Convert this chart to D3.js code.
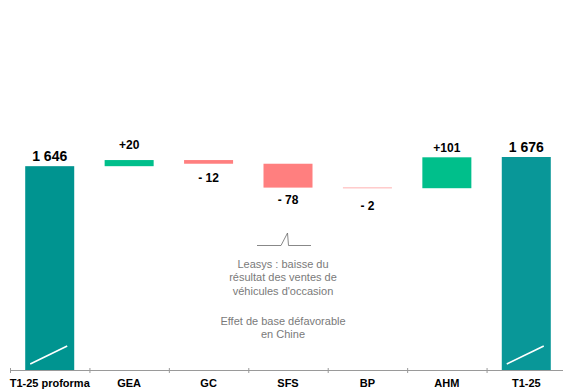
<!DOCTYPE html>
<html>
<head>
<meta charset="utf-8">
<script src="https://cdn.jsdelivr.net/npm/d3@7"></script>
<style>
  html, body { margin: 0; padding: 0; background: #fff; }
  svg { display: block; font-family: "Liberation Sans", Arial, sans-serif; }
</style>
</head>
<body>
<svg id="chart" width="563" height="392"></svg>
<script>
// ---- data ----
const categories = ["T1-25 proforma", "GEA", "GC", "SFS", "BP", "AHM", "T1-25"];
const values = [1646, 20, -12, -78, -2, 101, 1676];
const kinds = ["total", "delta", "delta", "delta", "delta", "delta", "total"];
const valueLabels = ["1 646", "+20", "- 12", "- 78", "- 2", "+101", "1 676"];
const axisBreakValue = 980;   // broken value axis starts here
const annotationBlocks = [["Leasys : baisse du", "résultat des ventes de", "véhicules d'occasion"], ["Effet de base défavorable", "en Chine"]];

// ---- layout ----
const W = 563, H = 392;
const baseY = 370, topY = 157;
const svg = d3.select("#chart");

const x = d3.scaleBand().domain(categories).range([10, 566]).paddingInner(0.383).paddingOuter(0.1915);
const y = d3.scaleLinear().domain([axisBreakValue, 1676]).range([baseY, topY]);

// waterfall computation
let running = 0;
const bars = categories.map((c, i) => {
  let y0, y1;
  if (kinds[i] === "total") { y0 = axisBreakValue; y1 = values[i]; running = values[i]; }
  else { y0 = running; y1 = running + values[i]; running = y1; }
  return { cat: c, v: values[i], kind: kinds[i], lo: Math.min(y0, y1), hi: Math.max(y0, y1), label: valueLabels[i], i };
});

const colors = { pos: "#00BF8B", neg: "#FF7F7F" };
const colorOf = d => d.kind === "total" ? (d.i === 0 ? "#009490" : "#099798") : (d.v >= 0 ? colors.pos : colors.neg);

svg.append("g").selectAll("rect").data(bars).join("rect")
  .attr("x", d => x(d.cat))
  .attr("width", x.bandwidth())
  .attr("y", d => y(d.hi))
  .attr("height", d => Math.max(0.6, y(d.lo) - y(d.hi)))
  .attr("fill", colorOf);

// axis-break marks on total bars
svg.append("g").selectAll("line").data(bars.filter(d => d.kind === "total")).join("line")
  .attr("x1", d => x(d.cat) + 5)
  .attr("x2", d => x(d.cat) + 42)
  .attr("y1", baseY - 6)
  .attr("y2", baseY - 24)
  .attr("stroke", "#fff")
  .attr("stroke-width", 1.6);

// value labels
svg.append("g").selectAll("text").data(bars).join("text")
  .attr("x", d => x(d.cat) + x.bandwidth() / 2)
  .attr("y", d => {
    const top = y(d.hi), bot = y(d.lo);
    if (d.kind === "total") return top - 5;
    if (d.v >= 0) return Math.min(top - 5, bot - 17);
    return Math.max(bot + 16.5, top + 22);
  })
  .attr("text-anchor", "middle")
  .attr("font-weight", "bold")
  .attr("font-size", d => d.kind === "total" ? 14 : 12)
  .attr("fill", "#000")
  .text(d => d.label);

// category axis
const axis = svg.append("g").attr("transform", `translate(0,${baseY})`)
  .call(d3.axisBottom(x).tickSize(0).tickPadding(9));
axis.select(".domain").remove();
axis.selectAll("text")
  .attr("font-family", "Liberation Sans, Arial, sans-serif")
  .attr("font-size", 11).attr("font-weight", "bold").attr("fill", "#000");
svg.append("line").attr("x1", 10).attr("x2", W).attr("y1", baseY + 0.5).attr("y2", baseY + 0.5)
  .attr("stroke", "#9a9a9a").attr("stroke-width", 1);
const step = x.step();
svg.append("g").selectAll("line").data(categories).join("line")
  .attr("x1", c => x(c) + x.bandwidth() / 2 - step / 2 + 0.5)
  .attr("x2", c => x(c) + x.bandwidth() / 2 - step / 2 + 0.5)
  .attr("y1", baseY - 2).attr("y2", baseY + 3)
  .attr("stroke", "#9a9a9a").attr("stroke-width", 1);

// annotation
svg.append("path")
  .attr("d", "M257,245.5 L281,245.5 L287.5,233 L288.5,245.5 L311,245.5")
  .attr("fill", "none").attr("stroke", "#6a6a6a").attr("stroke-width", 0.8);
const ann = svg.append("text").attr("text-anchor", "middle").attr("font-size", 11).attr("fill", "#7a7a7a");
const blockStart = [267.5, 324.5];
annotationBlocks.forEach((lines, b) => {
  lines.forEach((t, k) => {
    ann.append("tspan").attr("x", 283).attr("y", blockStart[b] + k * 13.5).text(t);
  });
});
</script>
</body>
</html>
